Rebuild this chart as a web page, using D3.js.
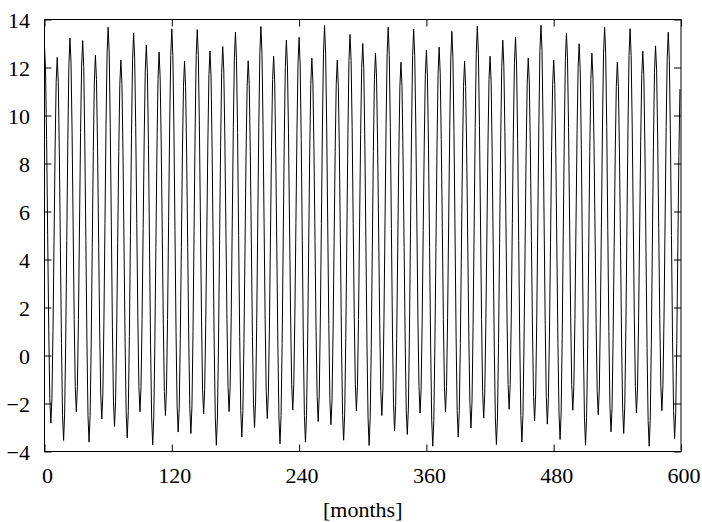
<!DOCTYPE html>
<html>
<head>
<meta charset="utf-8">
<script src="https://cdn.jsdelivr.net/npm/d3@7"></script>
<style>
  html, body { margin: 0; padding: 0; background: #fff; }
  svg { display: block; }
  text { font-family: "Liberation Serif", "Times New Roman", serif; fill: #000; }
</style>
</head>
<body>
<svg id="chart" width="702" height="522"></svg>
<script>
// x-axis tick labels (months) and y-axis tick labels
const xTicks = [0, 120, 240, 360, 480, 600];
const yTicks = [-4, -2, 0, 2, 4, 6, 8, 10, 12, 14];
const xLabel = "[months]";

// monthly values, months 0..599 (one row per 12 months)
const monthlyValues = [
  12.9, 11.9, 9.0, 5.0, 1.1, -1.8, -2.82, -1.8, 1.0, 4.8, 8.6, 11.4,
  12.42, 11.4, 8.4, 4.4, 0.5, -2.5, -3.54, -2.4, 0.6, 4.8, 9.0, 12.1,
  13.23, 12.2, 9.3, 5.4, 1.5, -1.3, -2.34, -1.3, 1.5, 5.4, 9.3, 12.1,
  13.12, 12.0, 8.9, 4.8, 0.6, -2.5, -3.61, -2.5, 0.4, 4.5, 8.5, 11.4,
  12.51, 11.5, 8.7, 4.9, 1.1, -1.6, -2.65, -1.6, 1.4, 5.5, 9.6, 12.6,
  13.68, 12.6, 9.5, 5.4, 1.2, -1.9, -2.96, -1.9, 0.9, 4.7, 8.5, 11.3,
  12.31, 11.3, 8.4, 4.4, 0.5, -2.4, -3.43, -2.3, 0.8, 5.0, 9.2, 12.3,
  13.43, 12.4, 9.5, 5.5, 1.6, -1.3, -2.34, -1.3, 1.5, 5.3, 9.1, 11.9,
  12.93, 11.8, 8.8, 4.6, 0.4, -2.6, -3.72, -2.6, 0.4, 4.5, 8.6, 11.5,
  12.64, 11.6, 8.9, 5.1, 1.3, -1.5, -2.50, -1.4, 1.5, 5.6, 9.6, 12.5,
  13.61, 12.5, 9.4, 5.2, 1.0, -2.1, -3.19, -2.2, 0.7, 4.5, 8.4, 11.2,
  12.26, 11.2, 8.4, 4.5, 0.6, -2.2, -3.25, -2.1, 1.0, 5.2, 9.4, 12.5,
  13.58, 12.5, 9.6, 5.6, 1.6, -1.4, -2.44, -1.4, 1.3, 5.1, 8.9, 11.7,
  12.69, 11.6, 8.6, 4.5, 0.4, -2.6, -3.74, -2.6, 0.4, 4.6, 8.7, 11.8,
  12.87, 11.9, 9.1, 5.3, 1.5, -1.3, -2.34, -1.3, 1.6, 5.6, 9.5, 12.4,
  13.47, 12.3, 9.3, 5.0, 0.8, -2.3, -3.40, -2.3, 0.5, 4.4, 8.4, 11.2,
  12.28, 11.3, 8.5, 4.6, 0.8, -2.0, -3.00, -1.9, 1.2, 5.4, 9.5, 12.6,
  13.71, 12.6, 9.6, 5.5, 1.5, -1.5, -2.63, -1.6, 1.1, 4.9, 8.7, 11.5,
  12.47, 11.4, 8.4, 4.4, 0.4, -2.6, -3.68, -2.5, 0.5, 4.7, 8.9, 12.0,
  13.14, 12.1, 9.3, 5.4, 1.6, -1.2, -2.27, -1.2, 1.6, 5.5, 9.4, 12.2,
  13.26, 12.1, 9.0, 4.8, 0.6, -2.5, -3.61, -2.5, 0.4, 4.4, 8.4, 11.3,
  12.39, 11.4, 8.6, 4.8, 1.0, -1.7, -2.75, -1.6, 1.4, 5.5, 9.6, 12.6,
  13.75, 12.6, 9.6, 5.4, 1.3, -1.8, -2.88, -1.9, 0.9, 4.7, 8.5, 11.3,
  12.31, 11.2, 8.4, 4.4, 0.4, -2.5, -3.53, -2.4, 0.7, 4.9, 9.2, 12.3,
  13.38, 12.3, 9.5, 5.5, 1.6, -1.2, -2.30, -1.3, 1.5, 5.4, 9.2, 12.0,
  13.00, 11.9, 8.8, 4.6, 0.4, -2.6, -3.75, -2.6, 0.3, 4.4, 8.5, 11.5,
  12.60, 11.6, 8.8, 5.1, 1.3, -1.5, -2.50, -1.4, 1.5, 5.6, 9.6, 12.6,
  13.68, 12.5, 9.5, 5.3, 1.1, -2.0, -3.15, -2.1, 0.7, 4.5, 8.4, 11.2,
  12.22, 11.2, 8.3, 4.5, 0.6, -2.3, -3.29, -2.2, 0.9, 5.2, 9.4, 12.5,
  13.60, 12.5, 9.6, 5.6, 1.6, -1.3, -2.40, -1.4, 1.4, 5.2, 8.9, 11.7,
  12.72, 11.6, 8.6, 4.5, 0.4, -2.7, -3.78, -2.7, 0.4, 4.5, 8.7, 11.7,
  12.85, 11.8, 9.0, 5.3, 1.5, -1.3, -2.34, -1.3, 1.6, 5.6, 9.5, 12.4,
  13.51, 12.4, 9.3, 5.1, 0.8, -2.3, -3.40, -2.3, 0.5, 4.4, 8.3, 11.2,
  12.26, 11.2, 8.4, 4.6, 0.8, -2.0, -3.02, -1.9, 1.2, 5.3, 9.5, 12.6,
  13.72, 12.6, 9.6, 5.6, 1.5, -1.5, -2.61, -1.6, 1.2, 4.9, 8.7, 11.5,
  12.47, 11.4, 8.4, 4.4, 0.3, -2.6, -3.71, -2.6, 0.5, 4.7, 8.9, 12.0,
  13.14, 12.1, 9.3, 5.4, 1.6, -1.2, -2.24, -1.2, 1.6, 5.5, 9.4, 12.2,
  13.26, 12.1, 9.0, 4.8, 0.6, -2.5, -3.61, -2.5, 0.4, 4.4, 8.4, 11.3,
  12.39, 11.4, 8.6, 4.8, 1.1, -1.7, -2.72, -1.6, 1.4, 5.5, 9.6, 12.7,
  13.76, 12.7, 9.6, 5.4, 1.3, -1.7, -2.86, -1.8, 0.9, 4.7, 8.5, 11.3,
  12.31, 11.3, 8.4, 4.4, 0.5, -2.4, -3.50, -2.4, 0.7, 5.0, 9.2, 12.3,
  13.42, 12.4, 9.5, 5.6, 1.6, -1.2, -2.28, -1.3, 1.5, 5.4, 9.2, 12.0,
  12.99, 11.9, 8.8, 4.6, 0.4, -2.6, -3.74, -2.6, 0.3, 4.4, 8.5, 11.5,
  12.60, 11.6, 8.8, 5.1, 1.3, -1.5, -2.47, -1.4, 1.6, 5.6, 9.6, 12.6,
  13.68, 12.6, 9.5, 5.2, 1.0, -2.1, -3.18, -2.2, 0.7, 4.5, 8.4, 11.2,
  12.22, 11.2, 8.4, 4.5, 0.6, -2.2, -3.25, -2.1, 1.0, 5.2, 9.4, 12.5,
  13.62, 12.5, 9.6, 5.6, 1.6, -1.3, -2.40, -1.4, 1.4, 5.1, 8.9, 11.7,
  12.68, 11.6, 8.6, 4.4, 0.3, -2.7, -3.78, -2.7, 0.4, 4.6, 8.7, 11.8,
  12.90, 11.9, 9.1, 5.3, 1.5, -1.3, -2.30, -1.2, 1.6, 5.6, 9.5, 12.4,
  13.47, 12.3, 9.2, 5.0, 0.8, -2.3, -3.46, -2.4, 0.5, 4.4, 8.3, 11.1
];

const W = 702, H = 522;
const margin = { left: 44.5, right: W - 681, top: 19.5, bottom: H - 451.5 };
const plotW = W - margin.left - margin.right;
const plotH = H - margin.top - margin.bottom;
const fontSize = 22;
const tickLen = 7;

const svg = d3.select("#chart");
const g = svg.append("g").attr("transform", `translate(${margin.left},${margin.top})`);

const x = d3.scaleLinear().domain([0, 600]).range([0, plotW]);
const y = d3.scaleLinear().domain([-4, 14]).range([plotH, 0]);

// data line
const line = d3.line()
  .x((d, i) => x(i))
  .y(d => y(d));

g.append("path")
  .datum(monthlyValues)
  .attr("fill", "none")
  .attr("stroke", "#000")
  .attr("stroke-width", 1)
  .attr("stroke-linejoin", "miter")
  .attr("d", line);

// axes with inward ticks on all four sides (mirrored)
function styleAxis(sel) {
  sel.attr("font-family", null);
  sel.select(".domain").remove();
  sel.selectAll(".tick line").attr("stroke", "#000").attr("stroke-width", 1);
  sel.selectAll("text").attr("font-size", fontSize)
    .style("font-family", '"Liberation Serif", "Times New Roman", serif');
}

const xBottom = g.append("g").attr("transform", `translate(0,${plotH})`)
  .call(d3.axisBottom(x).tickValues(xTicks).tickSizeInner(-tickLen).tickSizeOuter(0).tickPadding(0).tickFormat(d3.format("d")));
styleAxis(xBottom);
xBottom.selectAll("text").attr("y", null).attr("dy", null)
  .attr("transform", `translate(2.5,${31.8})`)
  .attr("text-anchor", "middle");

const xTop = g.append("g")
  .call(d3.axisTop(x).tickValues(xTicks).tickSizeInner(-tickLen).tickSizeOuter(0).tickFormat(""));
styleAxis(xTop);

const yLeft = g.append("g")
  .call(d3.axisLeft(y).tickValues(yTicks).tickSizeInner(-tickLen).tickSizeOuter(0).tickFormat(d3.format("d")));
styleAxis(yLeft);
yLeft.selectAll("text").attr("x", -14.5).attr("dy", null).attr("y", 7.6)
  .attr("text-anchor", "end");

const yRight = g.append("g").attr("transform", `translate(${plotW},0)`)
  .call(d3.axisRight(y).tickValues(yTicks).tickSizeInner(-tickLen).tickSizeOuter(0).tickFormat(""));
styleAxis(yRight);

// frame
g.append("rect")
  .attr("x", 0).attr("y", 0)
  .attr("width", plotW).attr("height", plotH)
  .attr("fill", "none").attr("stroke", "#000").attr("stroke-width", 1);

// x-axis title
svg.append("text")
  .attr("x", margin.left + plotW / 2)
  .attr("y", 516.5)
  .attr("text-anchor", "middle")
  .attr("font-size", fontSize)
  .text(xLabel);
</script>
</body>
</html>
